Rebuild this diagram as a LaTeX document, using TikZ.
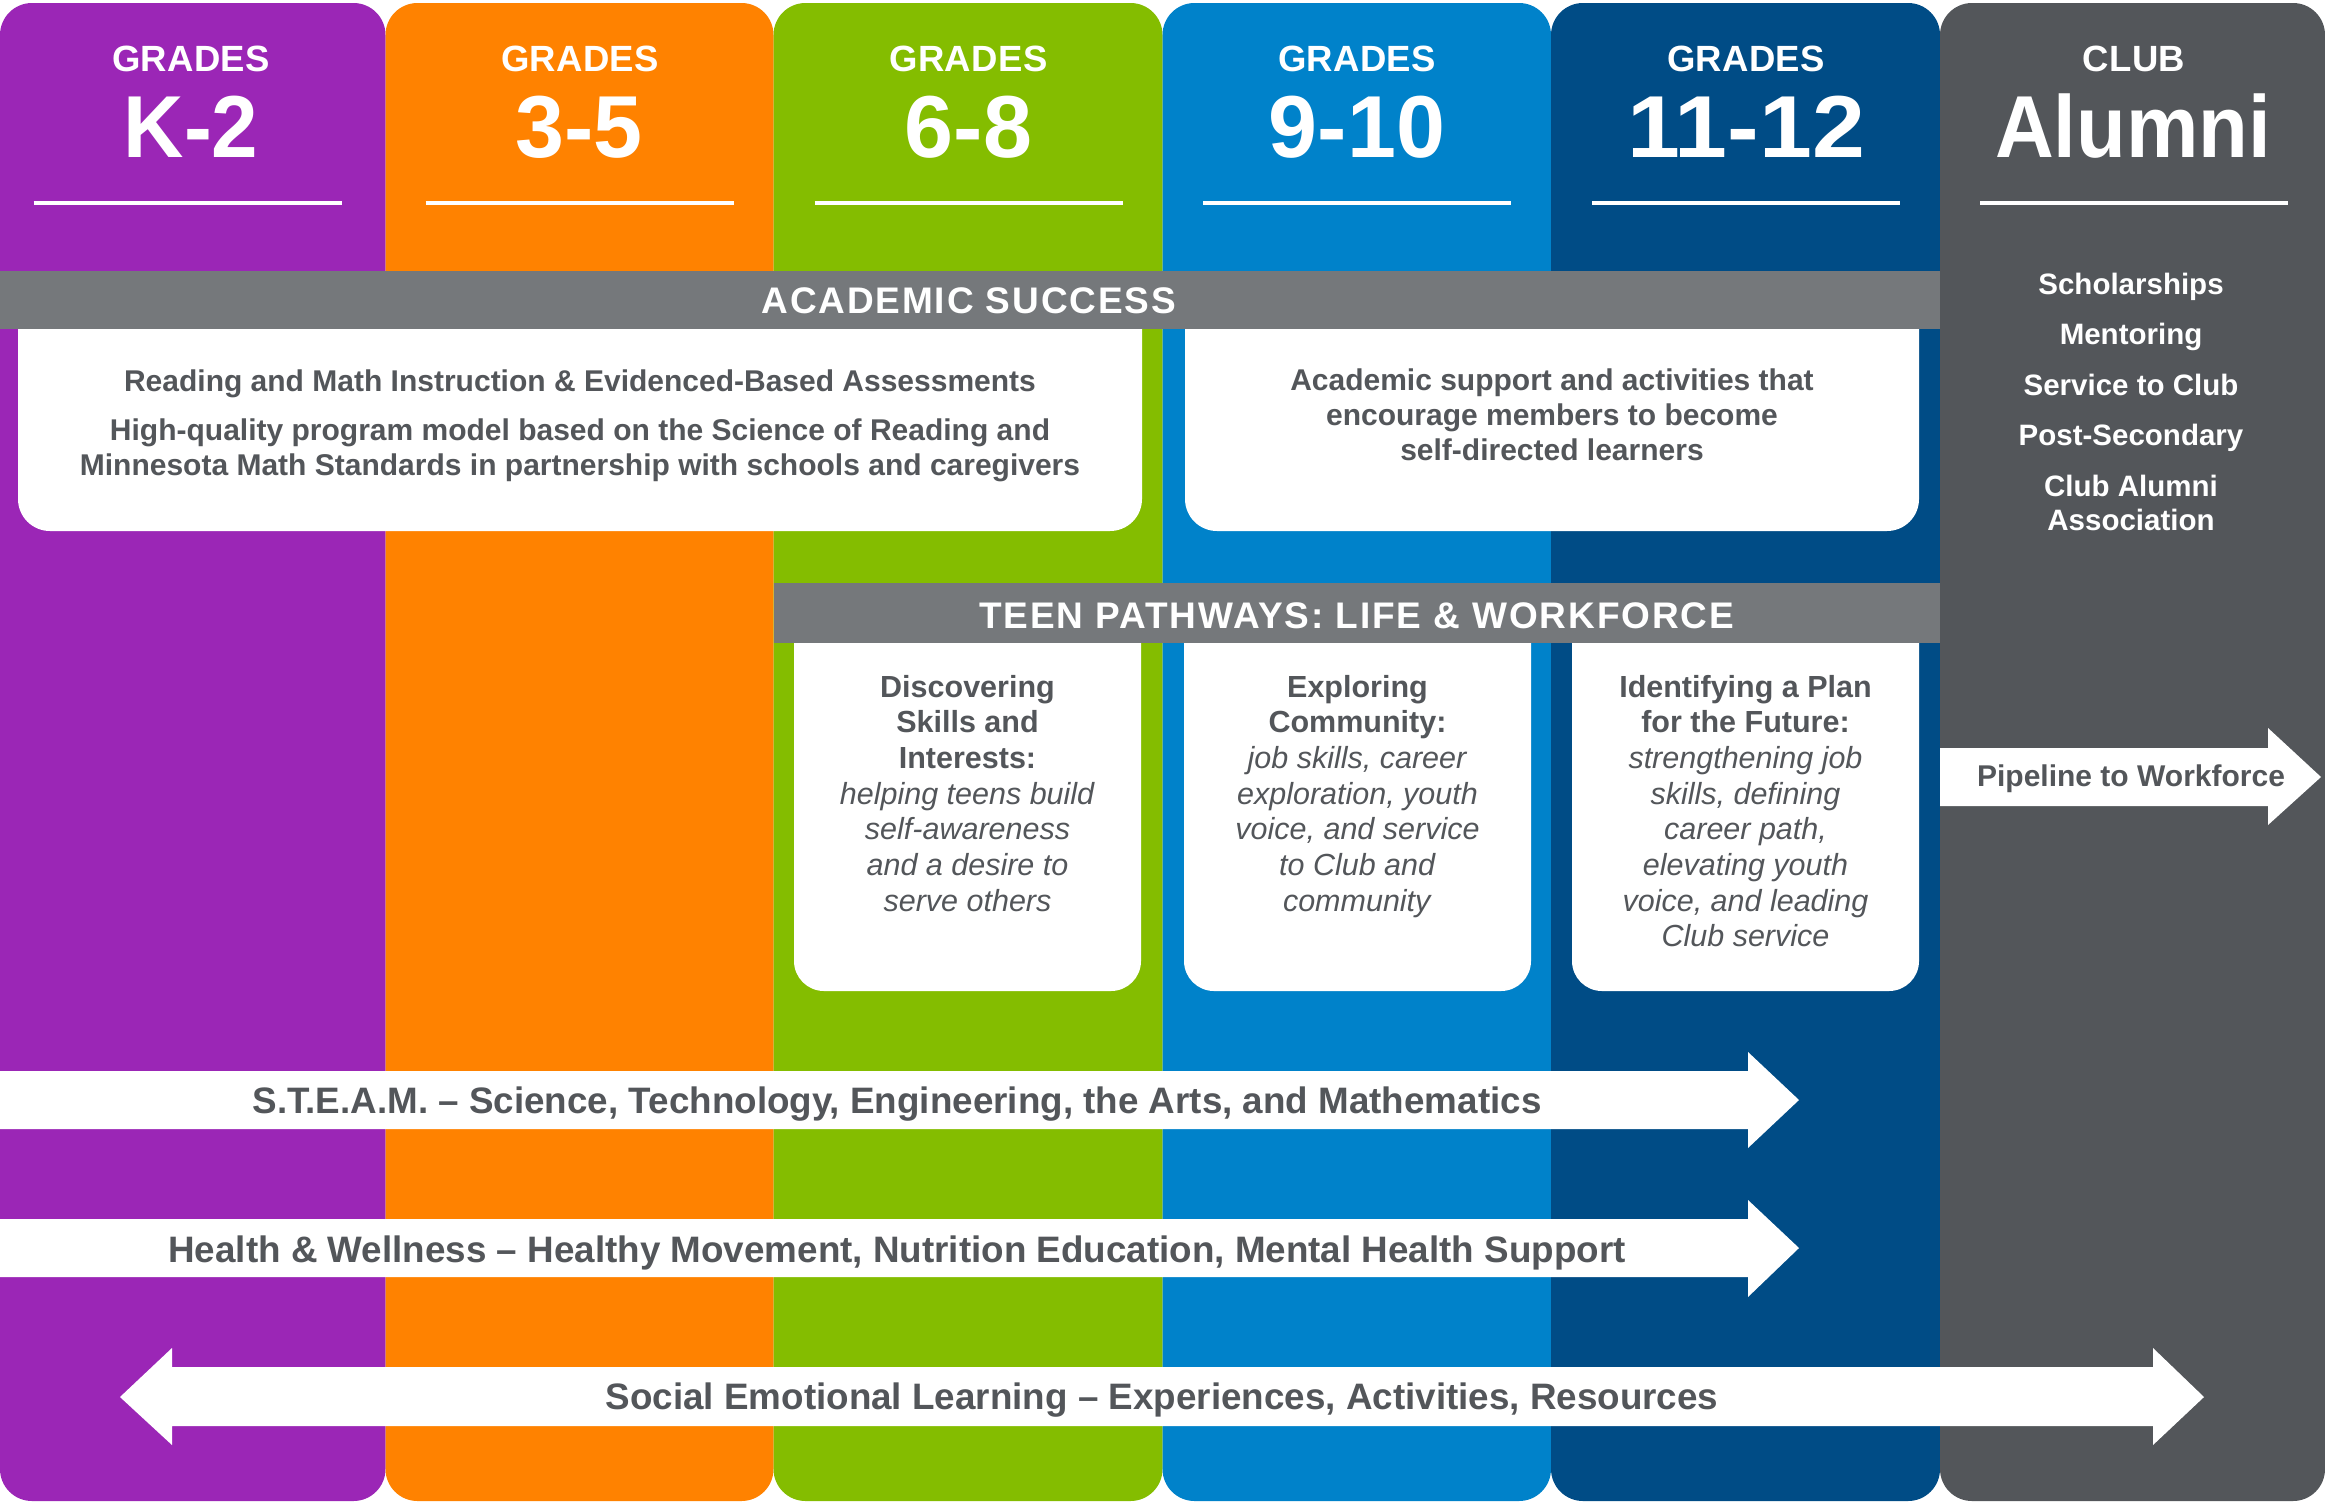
\documentclass[tikz,border=0pt]{standalone}
\usepackage{fontspec}
\setmainfont{Liberation Sans}
\usepackage{graphicx}
\definecolor{cpurple}{HTML}{9B26B6}
\definecolor{corange}{HTML}{FF8200}
\definecolor{cgreen}{HTML}{84BD00}
\definecolor{cblue}{HTML}{0082CA}
\definecolor{cdblue}{HTML}{004C86}
\definecolor{cgray}{HTML}{53565A}
\definecolor{bandgray}{HTML}{75787B}
\definecolor{txtgray}{HTML}{53565A}
\begin{document}
\begin{tikzpicture}[x=1pt,y=-1pt,
  colshape/.style={rounded corners=32pt},
  hdr/.style={text=white, font=\fontsize{36.5}{40}\selectfont\bfseries\addfontfeature{LetterSpace=1}, anchor=base, inner sep=0pt},
  big/.style={text=white, font=\fontsize{88}{90}\selectfont\bfseries, anchor=base, inner sep=0pt},
  bandlbl/.style={text=white, font=\fontsize{37}{40}\selectfont\bfseries\addfontfeature{LetterSpace=5}, anchor=base, inner sep=0pt},
  bodytxt/.style={text=txtgray, font=\fontsize{30}{35}\selectfont\bfseries, align=center, anchor=base, inner sep=0pt},
  alumtxt/.style={text=white, font=\fontsize{29.5}{34}\selectfont\bfseries, align=center, anchor=base, inner sep=0pt},
  teentxt/.style={text=txtgray, font=\fontsize{30.5}{35.7}\selectfont, align=center, anchor=base, inner sep=0pt},
  arrtxt/.style={text=txtgray, font=\fontsize{36.8}{40}\selectfont\bfseries, anchor=base, inner sep=0pt},
  pipetxt/.style={text=txtgray, font=\fontsize{30}{34}\selectfont\bfseries, anchor=base, inner sep=0pt},
  hline/.style={white, line width=3.5pt}
]
\useasboundingbox (0,0) rectangle (2325,1502);
% columns
\fill[cpurple, colshape] (0,3) rectangle (385.5,1501);
\fill[corange, colshape] (385.5,3) rectangle (773.5,1501);
\fill[cgreen, colshape] (773.5,3) rectangle (1162.5,1501);
\fill[cblue, colshape] (1162.5,3) rectangle (1551,1501);
\fill[cdblue, colshape] (1551,3) rectangle (1940,1501);
\fill[cgray, colshape] (1940,3) rectangle (2325,1501);
% header rules
\foreach \c in {187.5,579.6,968.5,1357,1746,2134}
  \draw[hline] (\c-154,203) -- (\c+154,203);
% headers
\node[hdr] (g1) at (191,71) {GRADES};
\node[hdr] (g2) at (580,71) {GRADES};
\node[hdr] (g3) at (968.5,71) {GRADES};
\node[hdr] (g4) at (1357,71) {GRADES};
\node[hdr] (g5) at (1746,71) {GRADES};
\node[hdr] (g6) at (2134,71) {CLUB};
\node[big] (n1) at (191,157.5) {\scalebox{0.95}[1]{K-2}};
\node[big] (n2) at (579,157.5) {3-5};
\node[big] (n3) at (968.5,157.5) {6-8};
\node[big] (n4) at (1357,157.5) {9-10};
\node[big] (n5) at (1746,157.5) {\scalebox{1.08}[1]{11-12}};
\node[big] (n6) at (2133,157.5) {\scalebox{0.925}[1]{Alumni}};
% white boxes
\fill[white, rounded corners=32pt] (18,290) rectangle (1142,531);
\fill[white, rounded corners=32pt] (1185,290) rectangle (1919,531);
\fill[white, rounded corners=30pt] (794,600) rectangle (1141,991);
\fill[white, rounded corners=30pt] (1184,600) rectangle (1531,991);
\fill[white, rounded corners=30pt] (1572,600) rectangle (1919,991);
% bands
\fill[bandgray] (0,271) rectangle (1940,329);
\fill[bandgray] (773.5,583) rectangle (1940,643);
\node[bandlbl] (acad) at (968.75,313.5) {ACADEMIC SUCCESS};
\node[bandlbl] (teen) at (1356.75,628.5) {TEEN PATHWAYS: LIFE \& WORKFORCE};
% academic texts
\node[bodytxt] (r1) at (580,391) {Reading and Math Instruction \& Evidenced-Based Assessments};
\node[bodytxt] (r2) at (580,475.6) {High-quality program model based on the Science of Reading and\\Minnesota Math Standards in partnership with schools and caregivers};
\node[bodytxt] (r3) at (1552,460) {Academic support and activities that\\encourage members to become\\self-directed learners};
% alumni list
\node[alumtxt] (a1) at (2131,294) {Scholarships};
\node[alumtxt] (a2) at (2131,344) {Mentoring};
\node[alumtxt] (a3) at (2131,395) {Service to Club};
\node[alumtxt] (a4) at (2131,445) {Post-Secondary};
\node[alumtxt] (a5) at (2131,530) {Club Alumni\\Association};
% teen boxes
\node[teentxt] (t1) at (967.5,911.2) {\textbf{Discovering}\\\textbf{Skills and}\\\textbf{Interests:}\\\textit{helping teens build}\\\textit{self-awareness}\\\textit{and a desire to}\\\textit{serve others}};
\node[teentxt] (t2) at (1357.5,911.2) {\textbf{Exploring}\\\textbf{Community:}\\\textit{job skills, career}\\\textit{exploration, youth}\\\textit{voice, and service}\\\textit{to Club and}\\\textit{community}};
\node[teentxt] (t3) at (1745.5,946.9) {\textbf{Identifying a Plan}\\\textbf{for the Future:}\\\textit{strengthening job}\\\textit{skills, defining}\\\textit{career path,}\\\textit{elevating youth}\\\textit{voice, and leading}\\\textit{Club service}};
% pipeline arrow
\fill[white] (1940,748) -- (2268,748) -- (2268,728) -- (2321,777) -- (2268,825) -- (2268,806) -- (1940,806) -- cycle;
\node[pipetxt] (pipe) at (2131,786) {Pipeline to Workforce};
% STEAM arrow
\fill[white] (0,1071) -- (1748,1071) -- (1748,1052) -- (1799,1100) -- (1748,1148) -- (1748,1129) -- (0,1129) -- cycle;
\node[arrtxt] (steam) at (897,1113) {S.T.E.A.M. -- Science, Technology, Engineering, the Arts, and Mathematics};
% Health arrow
\fill[white] (0,1219) -- (1748,1219) -- (1748,1200) -- (1799,1248) -- (1748,1297) -- (1748,1277) -- (0,1277) -- cycle;
\node[arrtxt] (health) at (897,1262) {Health \& Wellness -- Healthy Movement, Nutrition Education, Mental Health Support};
% SEL double arrow
\fill[white] (172,1367) -- (2153,1367) -- (2153,1348) -- (2204,1397) -- (2153,1445) -- (2153,1426) -- (172,1426) -- (172,1445) -- (120,1397) -- (172,1348) -- cycle;
\node[arrtxt] (sel) at (1162,1409) {Social Emotional Learning -- Experiences, Activities, Resources};
\end{tikzpicture}
\end{document}
